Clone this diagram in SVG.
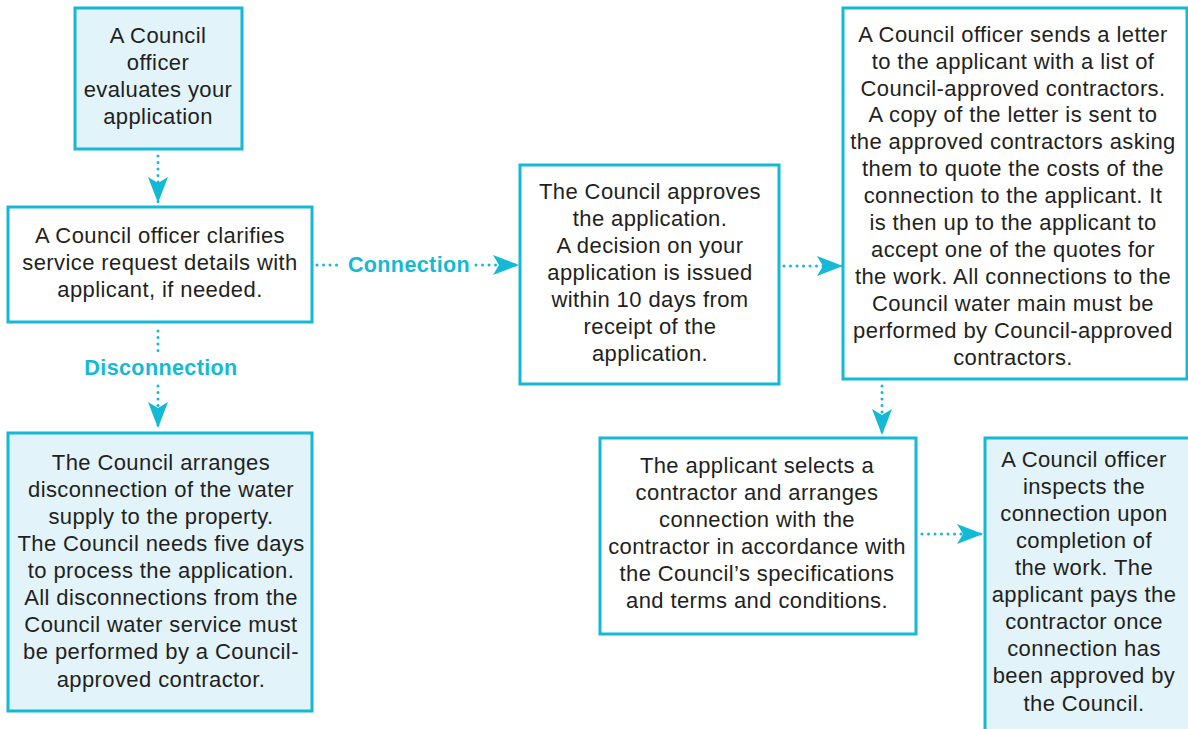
<svg xmlns="http://www.w3.org/2000/svg" width="1188" height="729" viewBox="0 0 1188 729">
<defs>
<style>
.box{fill:#ffffff;stroke:#13b9d5;stroke-width:3}
.fill{fill:#e2f3f9}
.t{font-family:"Liberation Sans",Arial,sans-serif;font-size:22px;letter-spacing:0.4px;fill:#231f20;text-anchor:middle}
.lbl{font-family:"Liberation Sans",Arial,sans-serif;font-size:21.5px;letter-spacing:0.4px;font-weight:bold;fill:#13b9d5;text-anchor:middle}
.dot{fill:none;stroke:#13b9d5;stroke-width:3;stroke-linecap:round;stroke-dasharray:0 6.5}
</style>
<marker id="ah" markerUnits="userSpaceOnUse" markerWidth="28" markerHeight="22" refX="26" refY="11" orient="auto" viewBox="0 0 28 22">
<path d="M0,1 L26,11 L0,21 L6,11 z" fill="#13b9d5"/>
</marker>
</defs>
<rect width="1188" height="729" fill="#ffffff"/>

<g id="n1">
<rect class="box fill" x="75" y="8" width="167" height="141"/>
<text class="t" x="158" y="43">A Council</text>
<text class="t" x="158" y="70">officer</text>
<text class="t" x="158" y="97">evaluates your</text>
<text class="t" x="158" y="124">application</text>
</g>

<g id="n2">
<rect class="box" x="8" y="207" width="304" height="115"/>
<text class="t" x="160" y="243">A Council officer clarifies</text>
<text class="t" x="160" y="270">service request details with</text>
<text class="t" x="160" y="297">applicant, if needed.</text>
</g>

<g id="n3">
<rect class="box fill" x="8" y="433" width="304" height="278"/>
<text class="t" x="161" y="470">The Council arranges</text>
<text class="t" x="161" y="497">disconnection of the water</text>
<text class="t" x="161" y="524">supply to the property.</text>
<text class="t" x="161" y="551">The Council needs five days</text>
<text class="t" x="161" y="578">to process the application.</text>
<text class="t" x="161" y="605">All disconnections from the</text>
<text class="t" x="161" y="632">Council water service must</text>
<text class="t" x="161" y="659">be performed by a Council-</text>
<text class="t" x="161" y="687">approved contractor.</text>
</g>

<g id="n4">
<rect class="box" x="520" y="165" width="259" height="219"/>
<text class="t" x="650" y="199">The Council approves</text>
<text class="t" x="650" y="226">the application.</text>
<text class="t" x="650" y="253">A decision on your</text>
<text class="t" x="650" y="280">application is issued</text>
<text class="t" x="650" y="307">within 10 days from</text>
<text class="t" x="650" y="334">receipt of the</text>
<text class="t" x="650" y="361">application.</text>
</g>

<g id="n5">
<rect class="box" x="843" y="8" width="344" height="371"/>
<text class="t" x="1013" y="42">A Council officer sends a letter</text>
<text class="t" x="1013" y="69">to the applicant with a list of</text>
<text class="t" x="1013" y="96">Council-approved contractors.</text>
<text class="t" x="1013" y="122">A copy of the letter is sent to</text>
<text class="t" x="1013" y="149">the approved contractors asking</text>
<text class="t" x="1013" y="176">them to quote the costs of the</text>
<text class="t" x="1013" y="203">connection to the applicant. It</text>
<text class="t" x="1013" y="230">is then up to the applicant to</text>
<text class="t" x="1013" y="257">accept one of the quotes for</text>
<text class="t" x="1013" y="284">the work. All connections to the</text>
<text class="t" x="1013" y="311">Council water main must be</text>
<text class="t" x="1013" y="338">performed by Council-approved</text>
<text class="t" x="1013" y="365">contractors.</text>
</g>

<g id="n6">
<rect class="box" x="600" y="438" width="316" height="196"/>
<text class="t" x="757" y="473">The applicant selects a</text>
<text class="t" x="757" y="500">contractor and arranges</text>
<text class="t" x="757" y="527">connection with the</text>
<text class="t" x="757" y="554">contractor in accordance with</text>
<text class="t" x="757" y="581">the Council’s specifications</text>
<text class="t" x="757" y="608">and terms and conditions.</text>
</g>

<g id="n7">
<rect class="box fill" x="985" y="438" width="210" height="300"/>
<text class="t" x="1084" y="467">A Council officer</text>
<text class="t" x="1084" y="494">inspects the</text>
<text class="t" x="1084" y="521">connection upon</text>
<text class="t" x="1084" y="548">completion of</text>
<text class="t" x="1084" y="575">the work. The</text>
<text class="t" x="1084" y="602">applicant pays the</text>
<text class="t" x="1084" y="629">contractor once</text>
<text class="t" x="1084" y="656">connection has</text>
<text class="t" x="1084" y="683">been approved by</text>
<text class="t" x="1084" y="711">the Council.</text>
</g>

<g id="connectors">
<path class="dot" d="M158,156 L158,203" marker-end="url(#ah)"/>
<path class="dot" d="M158,331 L158,356"/>
<text class="lbl" x="161" y="375">Disconnection</text>
<path class="dot" d="M158,386 L158,428" marker-end="url(#ah)"/>
<path class="dot" d="M317,265 L343,265"/>
<text class="lbl" x="409" y="272">Connection</text>
<path class="dot" d="M476,265 L519,265" marker-end="url(#ah)"/>
<path class="dot" d="M784,266 L843,266" marker-end="url(#ah)"/>
<path class="dot" d="M882,386 L882,435" marker-end="url(#ah)"/>
<path class="dot" d="M922,534 L983,534" marker-end="url(#ah)"/>
</g>
</svg>
